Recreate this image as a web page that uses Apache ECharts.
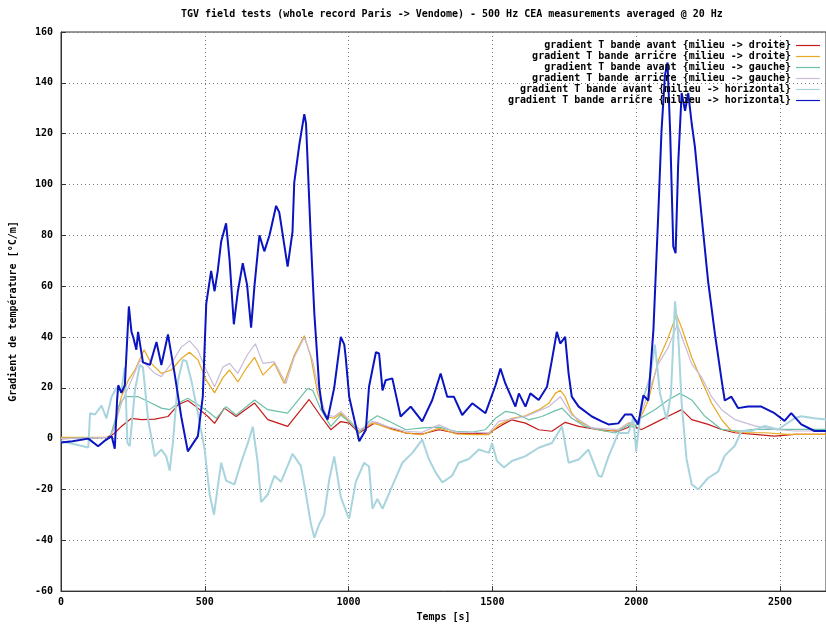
<!DOCTYPE html>
<html>
<head>
<meta charset="utf-8">
<script src="https://cdn.jsdelivr.net/npm/echarts@6/dist/echarts.min.js"></script>
<style>html,body{margin:0;padding:0;background:#fff}#c{width:826px;height:627px}</style>
</head>
<body>
<div id="c"></div>
<script>
const titleText = 'TGV field tests (whole record Paris -> Vendome) - 500 Hz CEA measurements averaged @ 20 Hz';
const seriesNames = [
  'gradient T bande avant {milieu -> droite}',
  'gradient T bande arričre {milieu -> droite}',
  'gradient T bande avant {milieu -> gauche}',
  'gradient T bande arričre {milieu -> gauche}',
  'gradient T bande avant {milieu -> horizontal}',
  'gradient T bande arričre {milieu -> horizontal}'
];

const avantDroite = [[0,0],[160,0.5],[185,2],[210,4.8],[245,8],[280,7.5],[326,7.7],[372,8.7],[407,13.3],[441,15],[476,12],[511,8.7],[534,6],[568,12],[609,8.7],[673,14],[719,7.5],[788,4.8],[863,15.4],[904,8.7],[938,3.5],[973,6.7],[1002,6.1],[1037,2.2],[1071,4.8],[1095,6.4],[1141,4.2],[1199,2.2],[1256,1.8],[1314,3.5],[1372,2.2],[1430,1.9],[1488,2.2],[1534,5.4],[1568,7.4],[1615,6.1],[1661,3.5],[1707,2.9],[1753,6.4],[1800,4.8],[1869,3.5],[1938,2.9],[1973,4.5],[1984,6],[2007,4],[2019,3.6],[2065,6.2],[2111,8.8],[2158,11.4],[2193,7.5],[2250,5.6],[2297,3.6],[2343,2.3],[2412,1.7],[2481,1],[2551,1.7],[2660,1.7]];

const arriereDroite = [[0,0.5],[170,0.5],[185,5],[210,16.5],[234,23],[257,27],[289,35],[314,29.6],[349,25.7],[384,27],[418,31.5],[447,34],[476,31],[505,23],[534,18],[563,24],[586,27],[615,22.3],[644,27.6],[673,32],[702,25],[742,29.6],[776,21.7],[811,32.8],[846,40.5],[869,32],[892,18],[921,8.7],[950,8],[973,10],[1014,5.4],[1037,2.9],[1083,6.1],[1106,5.4],[1152,3.5],[1199,2.2],[1256,1.6],[1314,4.2],[1372,1.9],[1430,1.6],[1488,1.6],[1522,5.4],[1568,8],[1615,9],[1661,11.3],[1696,13.9],[1719,17.8],[1736,19],[1753,16.5],[1776,10],[1800,6.8],[1846,4.2],[1892,2.9],[1938,3.5],[1973,6.1],[1996,5],[2007,6.2],[2042,15],[2077,30.7],[2111,39.7],[2140,48.8],[2158,43.6],[2193,32],[2227,23],[2262,14],[2297,7.5],[2331,3],[2377,2.3],[2447,2.3],[2528,1.7],[2660,1.7]];

const avantGauche = [[0,0],[170,0.5],[185,6],[199,12.6],[222,16.5],[268,16.5],[303,14.6],[349,12],[378,11.4],[407,13.9],[441,15.9],[476,13.3],[511,10.7],[540,8],[574,12.6],[609,9.3],[673,15.2],[719,11.4],[788,10],[857,19.7],[875,19],[904,11.4],[938,4.8],[973,9.3],[1014,5.4],[1037,2.2],[1071,6.8],[1100,9],[1141,6.8],[1199,3.5],[1256,4.2],[1314,4.5],[1372,2.9],[1430,2.6],[1476,3.5],[1511,8],[1545,10.7],[1580,10],[1626,7.4],[1672,8.7],[1713,10.7],[1742,12],[1776,8],[1823,4.8],[1869,3.5],[1927,2.2],[1973,5.4],[1996,4.2],[2007,7.5],[2065,11.4],[2111,15.2],[2152,17.8],[2193,15.2],[2239,8.8],[2297,3.6],[2354,3],[2412,3.6],[2660,3.6]];

const arriereGauche = [[0,0],[170,0.5],[185,4],[210,13.9],[245,23],[274,30.7],[291,29.6],[326,25.7],[349,24.4],[384,29.6],[418,36],[447,38.5],[476,34.7],[505,27],[534,20.4],[563,28.2],[586,29.6],[615,25.7],[647,32.8],[676,37.3],[702,29.6],[742,30.2],[782,21.7],[811,32],[846,39.8],[875,30.7],[898,18],[921,9.3],[950,8.7],[973,10.7],[1014,6.1],[1040,3.5],[1083,6.8],[1141,4.5],[1199,2.9],[1256,2.5],[1314,5.4],[1372,2.5],[1430,2.5],[1488,2.2],[1522,6.8],[1615,8.7],[1696,12.6],[1736,16.5],[1776,9.3],[1846,4.2],[1938,3.5],[1973,6.1],[2007,7],[2042,17.8],[2077,29.4],[2111,35.8],[2143,44.9],[2164,38.4],[2193,29.4],[2227,24.2],[2262,16.5],[2297,11.4],[2343,7.5],[2412,5],[2481,3.6],[2551,3],[2660,3]];

const avantHorizontal = [[0,-1],[40,-2],[95,-3.5],[101,10],[118,9.5],[141,13],[158,8],[176,16.5],[193,20],[210,19],[222,28],[231,-1.7],[239,-3],[257,19],[274,29],[285,28],[303,7.5],[326,-7],[349,-4.3],[366,-7],[378,-12.6],[389,-1.7],[407,23],[424,31],[436,30.5],[453,23],[476,10],[499,-4],[517,-22],[532,-30],[545,-19],[557,-9.5],[574,-16.5],[603,-18],[626,-9.5],[650,-1.7],[667,4.7],[684,-9.5],[696,-25],[719,-22],[742,-14.6],[765,-17],[788,-10.7],[805,-6],[834,-10.7],[852,-22],[869,-33.6],[881,-39],[898,-33.6],[915,-30],[933,-16],[950,-7],[973,-23],[996,-30],[1002,-31.5],[1025,-17],[1054,-9.5],[1071,-11],[1083,-27.6],[1100,-23.7],[1118,-27.6],[1152,-18.6],[1187,-9.5],[1222,-5.6],[1256,-0.4],[1279,-8],[1303,-13.4],[1326,-17.2],[1360,-14.6],[1383,-9.5],[1418,-8],[1453,-4.3],[1488,-5.6],[1499,-1.7],[1516,-8.8],[1540,-11.4],[1568,-8.8],[1615,-6.9],[1661,-3.6],[1707,-1.7],[1742,4.8],[1765,-9.5],[1800,-8.2],[1834,-4.3],[1869,-14.6],[1880,-15],[1904,-7],[1938,2.2],[1973,2.2],[1990,8],[2000,-5],[2019,14],[2048,24],[2065,37],[2083,17.6],[2106,7.5],[2121,17.6],[2135,54],[2146,41],[2158,14],[2175,-8],[2193,-18],[2216,-20],[2250,-15.5],[2285,-13],[2308,-6.7],[2343,-2.8],[2366,3],[2401,3],[2447,5],[2493,3.6],[2551,8],[2574,8.8],[2620,8],[2660,7.5]];

const arriereHorizontal = [[0,-1.5],[40,-1],[95,0],[129,-3],[150,-1],[176,1],[187,-4],[195,15],[199,21],[210,18],[222,21],[236,52],[245,42],[251,40],[262,35],[268,42],[285,30],[309,29],[332,38],[349,29],[372,41],[395,25.6],[418,8.7],[441,-5],[476,1],[493,16.5],[505,53],[522,66],[534,58],[545,66],[557,77.6],[574,84.7],[586,70.5],[601,45],[615,58],[632,69],[647,60.5],[661,43.7],[673,60.5],[690,80],[707,73.7],[725,80],[748,91.6],[759,89],[788,67.7],[805,81.4],[811,100.7],[829,116],[846,127.7],[852,124],[869,77.6],[881,49],[898,20.4],[909,11.4],[927,7.5],[950,20],[973,40],[985,37],[990,32],[1002,16.5],[1037,-1],[1060,3.5],[1071,20.4],[1095,34],[1106,33.5],[1118,19],[1129,23],[1152,23.7],[1181,8.7],[1216,12.6],[1256,6.8],[1291,15.2],[1320,25.6],[1343,16.5],[1366,16.5],[1395,9.3],[1430,13.9],[1476,10],[1511,21],[1528,27.6],[1545,21.7],[1580,12.6],[1592,17.8],[1615,12.6],[1632,17.8],[1661,15.2],[1690,20.4],[1707,31],[1724,42],[1736,37.4],[1753,40],[1765,25.6],[1776,16.5],[1800,12.6],[1846,8.7],[1880,6.8],[1904,5.6],[1938,6],[1961,9.5],[1984,9.5],[2007,5.6],[2025,17],[2042,15],[2060,43],[2077,89],[2088,121],[2100,143],[2109,148],[2118,121],[2129,75.6],[2137,73],[2146,108],[2158,136],[2170,129],[2181,136],[2193,124],[2204,115],[2227,88],[2250,62],[2274,41],[2297,23],[2308,15],[2331,16.5],[2354,12],[2389,12.6],[2435,12.6],[2481,10],[2516,7],[2539,10],[2574,5.6],[2620,3],[2660,3]];

const seriesData = [avantDroite, arriereDroite, avantGauche, arriereGauche, avantHorizontal, arriereHorizontal];
const seriesColors = ['#c41a1a', '#e8a820', '#6cc0a8', '#c8bcd8', '#a8d4de', '#0a14c0'];
const seriesWidths = [1.2, 1.2, 1.2, 1.2, 2, 2];

const font = 'DejaVu Sans Mono';
const chart = echarts.init(document.getElementById('c'));
chart.setOption({
  animation: false,
  backgroundColor: '#fff',
  title: {
    text: titleText, left: 181, top: 9, padding: 0,
    textStyle: { fontFamily: font, fontSize: 10, fontWeight: 'bold', color: '#000' }
  },
  legend: {
    orient: 'vertical', right: 6, top: 40, padding: 0, align: 'right',
    icon: 'rect', itemWidth: 24, itemHeight: 1.2, itemGap: 0,
    data: seriesNames,
    formatter: n => n.padStart(48, ' '),
    textStyle: { fontFamily: font, fontSize: 10, fontWeight: 'bold', color: '#000', lineHeight: 11 }
  },
  grid: { left: 61, top: 32, bottom: 30, right: -2, show: true, borderColor: '#333', borderWidth: 1, containLabel: false },
  xAxis: {
    type: 'value', min: 0, max: 2660, interval: 500,
    name: 'Temps [s]', nameLocation: 'middle', nameGap: 19,
    nameTextStyle: { fontFamily: font, fontSize: 10, fontWeight: 'bold', color: '#000' },
    axisLine: { show: true, onZero: false, lineStyle: { color: '#333', width: 1 } },
    axisTick: { show: true, inside: true, length: 5, lineStyle: { color: '#333' } },
    axisLabel: { showMaxLabel: false, margin: 6, formatter: v => String(v), fontFamily: font, fontSize: 10, fontWeight: 'bold', color: '#000' },
    splitLine: { show: true, lineStyle: { color: '#777', type: [1, 3], width: 1 } }
  },
  yAxis: {
    type: 'value', min: -60, max: 160, interval: 20,
    name: 'Gradient de température [°C/m]', nameLocation: 'middle', nameGap: 43,
    nameTextStyle: { fontFamily: font, fontSize: 10, fontWeight: 'bold', color: '#000' },
    axisLine: { show: true, lineStyle: { color: '#333', width: 1 } },
    axisTick: { show: true, inside: true, length: 5, lineStyle: { color: '#333' } },
    axisLabel: { margin: 8, formatter: v => String(v), fontFamily: font, fontSize: 10, fontWeight: 'bold', color: '#000' },
    splitLine: { show: true, lineStyle: { color: '#777', type: [1, 3], width: 1 } }
  },
  series: seriesNames.map((n, i) => ({
    name: n, type: 'line', data: seriesData[i], showSymbol: false, symbol: 'none',
    lineStyle: { color: seriesColors[i], width: seriesWidths[i] },
    itemStyle: { color: seriesColors[i] }
  }))
});
</script>
</body>
</html>
